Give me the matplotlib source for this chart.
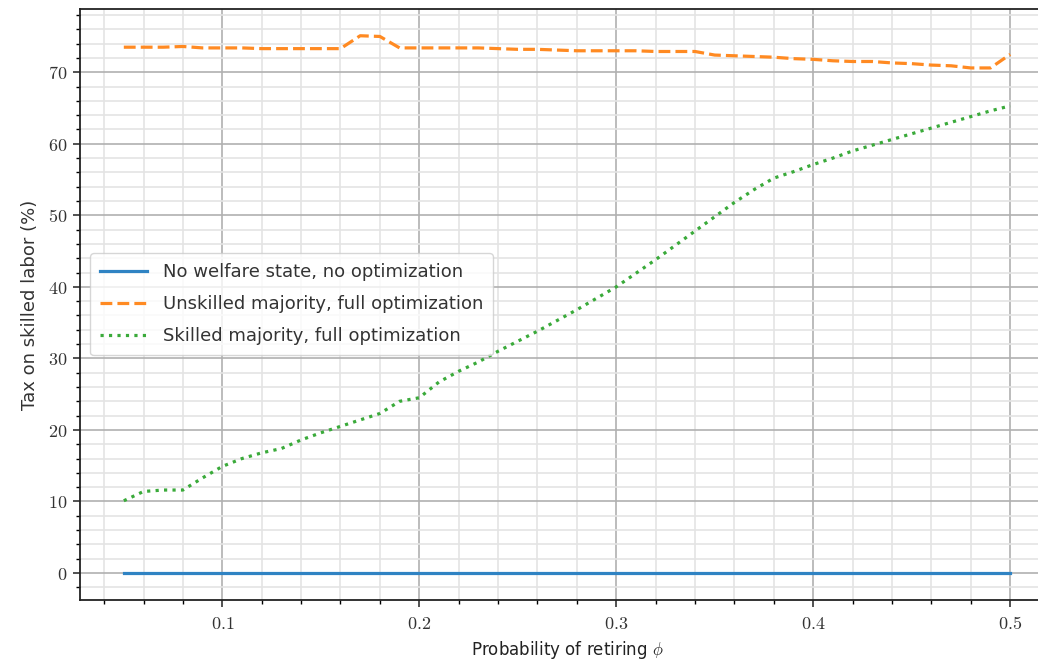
import numpy as np
import matplotlib
matplotlib.use('Agg')
import matplotlib.pyplot as plt
from matplotlib.ticker import MultipleLocator, FuncFormatter

plt.rcParams['mathtext.fontset'] = 'cm'
plt.rcParams['font.family'] = ['DejaVu Sans']

# probability of retiring, step 0.01
phi = [0.05, 0.06, 0.07, 0.08, 0.09, 0.10, 0.11, 0.12, 0.13, 0.14,
	0.15, 0.16, 0.17, 0.18, 0.19, 0.20, 0.21, 0.22, 0.23, 0.24,
	0.25, 0.26, 0.27, 0.28, 0.29, 0.30, 0.31, 0.32, 0.33, 0.34,
	0.35, 0.36, 0.37, 0.38, 0.39, 0.40, 0.41, 0.42, 0.43, 0.44,
	0.45, 0.46, 0.47, 0.48, 0.49, 0.50]

no_welfare = [0.0] * len(phi)

unskilled = [73.5, 73.5, 73.5, 73.6, 73.4, 73.4, 73.4, 73.3, 73.3, 73.3,
	73.3, 73.3, 75.1, 75.0, 73.4, 73.4, 73.4, 73.4, 73.4, 73.3,
	73.2, 73.2, 73.1, 73.0, 73.0, 73.0, 73.0, 72.9, 72.9, 72.9,
	72.4, 72.3, 72.2, 72.1, 71.9, 71.8, 71.6, 71.5, 71.5, 71.3,
	71.2, 71.0, 70.9, 70.6, 70.6, 72.5]

skilled = [10.1, 11.4, 11.6, 11.6, 13.3, 14.9, 16.0, 16.8, 17.4, 18.6,
	19.6, 20.5, 21.4, 22.3, 24.0, 24.5, 26.7, 28.2, 29.5, 31.0,
	32.4, 33.8, 35.3, 36.8, 38.4, 40.0, 41.9, 43.8, 45.8, 47.8,
	49.8, 51.8, 53.6, 55.2, 56.1, 57.1, 58.0, 59.0, 59.8, 60.6,
	61.4, 62.2, 63.0, 63.8, 64.6, 65.3]

fig = plt.figure(figsize = (10.38, 6.63), dpi = 100)
# right spine falls outside the picture (reference is cropped)
ax = fig.add_axes([79.5 / 1038, 0.0952, 975 / 1038, 0.8914])

ax.plot(phi, no_welfare, color = '#2f83c3', lw = 2.3, ls = '-', label = 'No welfare state, no optimization')
ax.plot(phi, unskilled, color = '#ff8a22', lw = 2.3, ls = '--', label = 'Unskilled majority, full optimization')
ax.plot(phi, skilled, color = '#3aaa3a', lw = 2.3, ls = ':', label = 'Skilled majority, full optimization')

ax.xaxis.set_major_locator(MultipleLocator(0.1))
ax.xaxis.set_minor_locator(MultipleLocator(0.02))
ax.yaxis.set_major_locator(MultipleLocator(10))
ax.yaxis.set_minor_locator(MultipleLocator(2))

ax.xaxis.set_major_formatter(FuncFormatter(lambda v, p: r'$%g$' % round(v, 2)))
ax.yaxis.set_major_formatter(FuncFormatter(lambda v, p: r'$%d$' % round(v)))

ax.grid(which = 'major', color = '#b0b0b0', lw = 1.2)
ax.grid(which = 'minor', color = '#e4e4e4', lw = 1.2)
ax.set_axisbelow(True)

ax.tick_params(which = 'major', direction = 'out', length = 5, width = 1.2, labelsize = 13, colors = '#333333')
ax.tick_params(which = 'minor', direction = 'out', length = 3, width = 1.0)
ax.tick_params(axis = 'x', pad = 6)

for s in ax.spines.values():
	s.set_linewidth(1.3)
	s.set_color('#222222')

ax.set_xlabel(r'Probability of retiring $\phi$', fontsize = 12, labelpad = 4, color = '#222222')
ax.set_ylabel('Tax on skilled labor (%)', fontsize = 13, labelpad = 7, color = '#333333')

leg = ax.legend(loc = 'center left', fontsize = 13, handlelength = 2.6, handletextpad = 0.85,
	labelspacing = 0.78, borderaxespad = 0.6, borderpad = 0.55)
for t in leg.get_texts():
	t.set_color('#333333')

fig.savefig('out.png', dpi = 100)
